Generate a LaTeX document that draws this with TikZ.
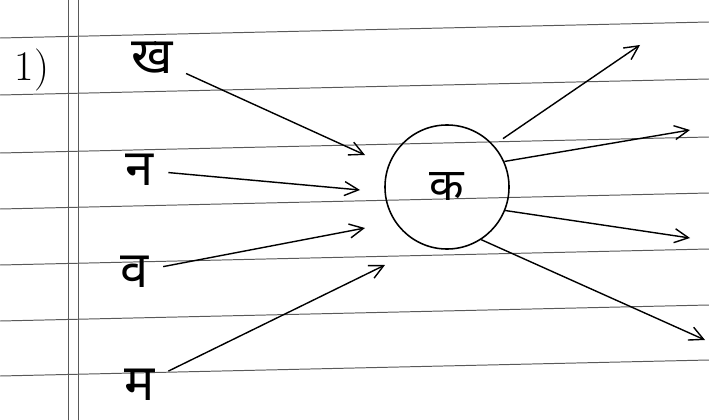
\documentclass[tikz,border=0pt]{standalone}
\usepackage{fontspec}
\newfontfamily\deva[Script=Devanagari]{Noto Sans}
\usetikzlibrary{positioning,arrows.meta}

\begin{document}
\begin{tikzpicture}[x=0.025cm,y=-0.025cm,
		letter/.style={font=\deva\fontsize{36}{40}\selectfont,inner sep=2pt},
		hub/.style={draw,circle,line width=1.1pt,minimum size=3.1cm,inner sep=0pt,font=\deva\fontsize{32}{36}\selectfont},
		ar/.style={-{Straight Barb[length=3.5mm,width=3.5mm]},line width=1pt,shorten <=8pt},
		rule/.style={black!65,line width=0.7pt}
		]

		\useasboundingbox (0,0) rectangle (709,420);

		% ruled paper
		\foreach \y in {38,95,153,209,265,321,376}
			\draw[rule] (0,\y) -- (709,\y-16);
		\draw[rule] (68,0) -- (68,420);
		\draw[rule] (78,0) -- (78,420);

		\node[font=\fontsize{30}{34}\selectfont] (num) at (32,70) {1)};

		\node[letter] (kha) at (152,58) {ख};
		\node[letter] (na) at (140,170) {न};
		\node[letter] (va) at (135,272) {व};
		\node[letter] (ma) at (140,385) {म};
		\node[hub] (ka) at (447,187) {क};

		\coordinate (in1) at (365,155);
		\coordinate (in2) at (360,190);
		\coordinate (in3) at (365,228);
		\coordinate (in4) at (385,265);
		\coordinate (out1) at (640,45);
		\coordinate (out2) at (690,130);
		\coordinate (out3) at (690,238);
		\coordinate (out4) at (705,340);

		\draw[ar] (kha) -- (in1);
		\draw[ar] (na) -- (in2);
		\draw[ar] (va) -- (in3);
		\draw[ar] (ma) -- (in4);
		\draw[ar] (ka.42) -- (out1);
		\draw[ar,shorten <=0pt] (ka.24) -- (out2);
		\draw[ar,shorten <=0pt] (ka.-22) -- (out3);
		\draw[ar,shorten <=0pt] (ka.-57) -- (out4);

	\end{tikzpicture}
\end{document}
